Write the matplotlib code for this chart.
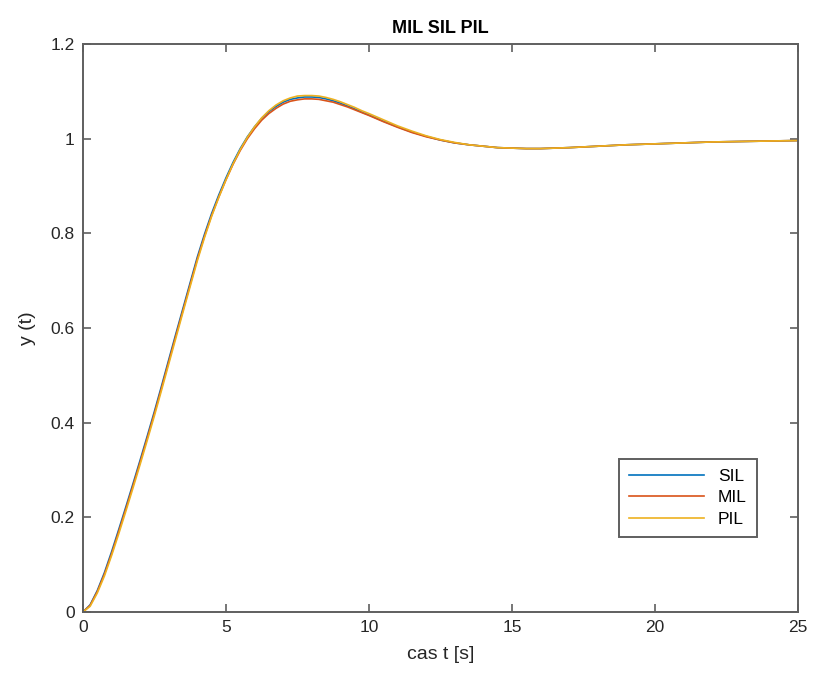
import matplotlib
matplotlib.use("Agg")
import matplotlib.pyplot as plt

plt.rcParams['font.family'] = ['Liberation Sans', 'DejaVu Sans']

# cas [s]: 0..10 po 0.25, 10.5..16 po 0.5, 17..25 po 1
t = ([i * 0.25 for i in range(41)]
     + [10.5 + i * 0.5 for i in range(12)]
     + [17 + i for i in range(9)])

sil = [0, 0.015, 0.045, 0.083, 0.127, 0.174, 0.222, 0.271, 0.321, 0.372,
       0.424, 0.478, 0.533, 0.588, 0.642, 0.696, 0.750, 0.798, 0.842, 0.881,
       0.917, 0.950, 0.979, 1.004, 1.025, 1.043, 1.057, 1.068, 1.077, 1.083,
       1.086, 1.088, 1.088, 1.087, 1.084, 1.080, 1.075, 1.069, 1.063, 1.056,
       1.050,
       1.037, 1.025, 1.014, 1.005, 0.997, 0.991, 0.987, 0.984, 0.981, 0.980,
       0.979, 0.979,
       0.981, 0.984, 0.987, 0.989, 0.991, 0.993, 0.994, 0.995, 0.996]

mil = [0, 0.014, 0.043, 0.080, 0.123, 0.170, 0.218, 0.267, 0.317, 0.368,
       0.420, 0.474, 0.529, 0.584, 0.638, 0.692, 0.746, 0.794, 0.838, 0.877,
       0.913, 0.946, 0.975, 1.000, 1.021, 1.039, 1.053, 1.064, 1.073, 1.079,
       1.082, 1.084, 1.084, 1.083, 1.080, 1.077, 1.072, 1.067, 1.061, 1.055,
       1.049,
       1.036, 1.024, 1.013, 1.004, 0.997, 0.991, 0.987, 0.984, 0.981, 0.980,
       0.979, 0.979,
       0.981, 0.984, 0.987, 0.989, 0.991, 0.993, 0.994, 0.995, 0.996]

pil = [0, 0.012, 0.040, 0.076, 0.119, 0.165, 0.213, 0.262, 0.312, 0.363,
       0.415, 0.469, 0.524, 0.579, 0.634, 0.688, 0.742, 0.791, 0.836, 0.876,
       0.913, 0.947, 0.977, 1.003, 1.025, 1.044, 1.059, 1.071, 1.080, 1.086,
       1.090, 1.091, 1.091, 1.090, 1.087, 1.083, 1.078, 1.072, 1.066, 1.059,
       1.053,
       1.040, 1.027, 1.016, 1.006, 0.998, 0.992, 0.987, 0.984, 0.981, 0.980,
       0.979, 0.979,
       0.981, 0.984, 0.987, 0.989, 0.991, 0.993, 0.994, 0.995, 0.996]

fig = plt.figure(figsize=(8.15, 6.85), dpi=100)
ax = fig.add_axes([0.1018, 0.1066, 0.8772, 0.8292])

ax.plot(t, sil, color='#0072BD', lw=1.2, label='SIL')
ax.plot(t, mil, color='#D95319', lw=1.2, label='MIL')
ax.plot(t, pil, color='#EDB120', lw=1.2, label='PIL')

ax.set_xlim(0, 25)
ax.set_ylim(0, 1.2)
ax.set_xticks([0, 5, 10, 15, 20, 25])
ax.set_yticks([0, 0.2, 0.4, 0.6, 0.8, 1.0, 1.2])
ax.set_yticklabels(['0', '0.2', '0.4', '0.6', '0.8', '1', '1.2'])

axis_col = '#5f5f5f'
for s in ax.spines.values():
    s.set_color(axis_col)
    s.set_linewidth(1.4)
ax.tick_params(direction='in', top=True, right=True, length=6, width=1.2,
               color=axis_col, labelcolor='#262626', labelsize=12.5, pad=6)

ax.set_title('MIL SIL PIL', fontsize=13, fontweight='bold', color='#000000', pad=8)
ax.set_xlabel('cas t [s]', fontsize=14, color='#262626', labelpad=8)
ax.set_ylabel('y (t)', fontsize=14, color='#262626', labelpad=10)

leg = ax.legend(loc='lower right', bbox_to_anchor=(0.943, 0.132), fancybox=False,
                fontsize=12.5, handlelength=4.3, borderpad=0.6, labelspacing=0.35,
                handletextpad=0.8, borderaxespad=0)
leg.get_frame().set_edgecolor(axis_col)
leg.get_frame().set_linewidth(1.4)
leg.get_frame().set_alpha(1)
for txt in leg.get_texts():
    txt.set_color('#000000')

fig.savefig('out.png', dpi=100)
